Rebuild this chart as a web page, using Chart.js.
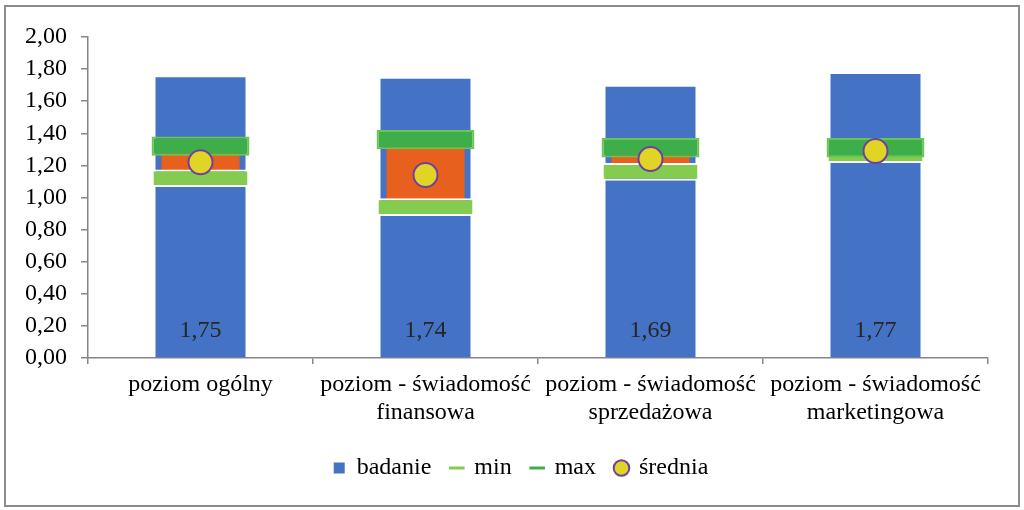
<!DOCTYPE html>
<html><head><meta charset="utf-8">
<script src="https://cdn.jsdelivr.net/npm/chart.js@4/dist/chart.umd.min.js"></script>
<style>html,body{margin:0;padding:0;background:#fff}#wrap{width:1024px;height:510px}</style>
</head><body><div id="wrap"><canvas id="c" width="1024" height="510"></canvas></div>
<script>
const categories = [['poziom ogólny'], ['poziom - świadomość', 'finansowa'], ['poziom - świadomość', 'sprzedażowa'], ['poziom - świadomość', 'marketingowa']];
const badanie = [1.75, 1.74, 1.69, 1.77];
const minValues = [1.12, 0.94, 1.16, 1.27];
const maxValues = [1.32, 1.36, 1.31, 1.31];
const meanValues = [1.22, 1.14, 1.24, 1.29];
const seriesNames = ['badanie', 'min', 'max', 'średnia'];

const FONT = '"Liberation Serif", "Times New Roman", serif';
const fmt = v => v.toFixed(2).replace('.', ',');
const BLUE = '#4472C4', ORANGE = '#E8601E', LGREEN = '#84CC50', DGREEN = '#3DAE49', YELLOW = '#E0D424', PURPLE = '#7040A0';
const AXIS = '#868686';
const MIN_HALF = 0.055, MAX_HALF = 0.06;

const frame = {
  id: 'frame',
  afterLayout(chart) {
    if (chart.legend) { chart.legend.left = 54; }
  },
  beforeDraw(chart) {
    const ctx = chart.ctx;
    ctx.save();
    ctx.fillStyle = '#fff';
    ctx.fillRect(0, 0, chart.width, chart.height);
    ctx.strokeStyle = '#8c8c8c';
    ctx.lineWidth = 2;
    ctx.strokeRect(5, 6, 1014, 500);
    ctx.restore();
  }
};
const valueLabels = {
  id: 'valueLabels',
  afterDatasetsDraw(chart) {
    const ctx = chart.ctx, ys = chart.scales.y;
    const meta = chart.getDatasetMeta(0);
    ctx.save();
    ctx.font = '24px ' + FONT;
    ctx.fillStyle = '#262626';
    ctx.textAlign = 'center';
    ctx.textBaseline = 'middle';
    meta.data.forEach((bar, i) => {
      ctx.fillText(fmt(badanie[i]), bar.x, ys.getPixelForValue(0) - 27);
    });
    ctx.restore();
  }
};

new Chart(document.getElementById('c'), {
  data: {
    labels: categories,
    datasets: [
      { type: 'bar', label: seriesNames[0], data: badanie, backgroundColor: BLUE, grouped: false,
        barPercentage: 0.4, categoryPercentage: 1, order: 5, legendStyle: 'rect' },
      { type: 'bar', label: 'range', data: minValues.map((v, i) => [v, maxValues[i]]), backgroundColor: ORANGE,
        grouped: false, barPercentage: 0.347, categoryPercentage: 1, order: 4, legendStyle: null },
      { type: 'bar', label: seriesNames[1], data: minValues.map(v => [v - MIN_HALF, v + MIN_HALF]), backgroundColor: LGREEN,
        borderColor: '#ffffff', borderWidth: { top: 2, bottom: 2, left: 0, right: 0 }, borderSkipped: false,
        grouped: false, barPercentage: 0.418, categoryPercentage: 1, order: 3, legendStyle: 'line' },
      { type: 'bar', label: seriesNames[2], data: maxValues.map(v => [v - MAX_HALF, v + MAX_HALF]), backgroundColor: DGREEN,
        borderColor: '#6cc452', borderWidth: 2, borderSkipped: false,
        grouped: false, barPercentage: 0.435, categoryPercentage: 1, order: 2, legendStyle: 'line' },
      { type: 'line', label: seriesNames[3], data: meanValues, showLine: false, pointRadius: 12, pointHoverRadius: 12,
        pointBackgroundColor: YELLOW, pointBorderColor: PURPLE, pointBorderWidth: 2, order: 1, legendStyle: 'circle' }
    ]
  },
  options: {
    responsive: false,
    animation: false,
    events: [],
    layout: { padding: { left: 0, right: 36, top: 37, bottom: 20 } },
    plugins: {
      tooltip: { enabled: false },
      legend: {
        position: 'bottom',
        labels: {
          font: { family: FONT, size: 24 },
          color: '#000',
          usePointStyle: true,
          boxWidth: 11, boxHeight: 11,
          padding: 20,
          sort: (a, b) => a.datasetIndex - b.datasetIndex,
          generateLabels(chart) {
            return chart.data.datasets.map((ds, i) => ({ ds, i })).filter(o => o.ds.legendStyle).map(({ ds, i }) => {
              const st = ds.legendStyle;
              let fill = ds.backgroundColor, stroke = ds.backgroundColor, lw = 0;
              if (st === 'line') { stroke = ds.backgroundColor; lw = 3; }
              if (st === 'circle') { fill = ds.pointBackgroundColor; stroke = ds.pointBorderColor; lw = 2; }
              return { text: ds.label, fillStyle: fill, strokeStyle: stroke, lineWidth: lw, pointStyle: st,
                datasetIndex: i, hidden: false, fontColor: '#000' };
            });
          }
        }
      }
    },
    scales: {
      x: {
        offset: true,
        grid: { display: true, drawOnChartArea: false, offset: true, tickLength: 6, color: AXIS, lineWidth: 1.5 },
        border: { display: true, color: AXIS, width: 1.5 },
        ticks: { font: { family: FONT, size: 24, lineHeight: 1.17 }, color: '#000', padding: 7, maxRotation: 0, autoSkip: false },
        afterFit(s) { s.height = 78; }
      },
      y: {
        min: 0, max: 2,
        grid: { display: true, drawOnChartArea: false, tickLength: 7, color: AXIS, lineWidth: 1.5 },
        border: { display: true, color: AXIS, width: 1.5 },
        ticks: { stepSize: 0.2, autoSkip: false, font: { family: FONT, size: 24 }, color: '#000', padding: 14,
          callback: v => fmt(v) },
        afterFit(s) { s.width = 88; }
      }
    }
  },
  plugins: [frame, valueLabels]
});
</script></body></html>
